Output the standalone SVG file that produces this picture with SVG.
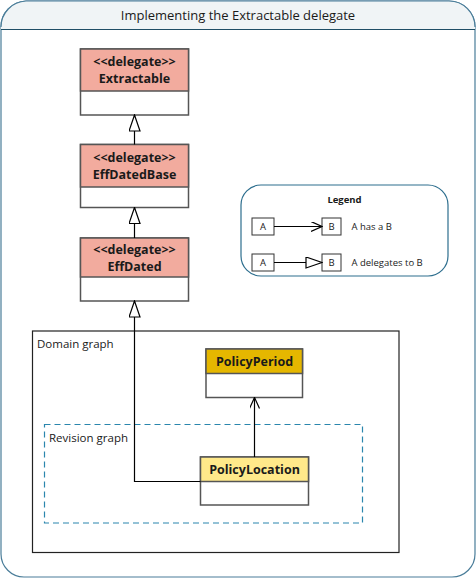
<svg xmlns="http://www.w3.org/2000/svg" width="476" height="578" viewBox="0 0 476 578">
<style>
.t{font-family:"Open Sans","Liberation Sans",sans-serif;fill:#1a1a1a}
.b{font-weight:bold;font-size:12.5px;text-anchor:middle}
.box{fill:#fff;stroke:#555;stroke-width:1.5}
.del{fill:#f2ab9e;stroke:#555;stroke-width:1.5}
.con{fill:none;stroke:#000;stroke-width:1.2}
.lg{font-size:9.5px}
</style>
<defs>
<marker id="open" markerWidth="12" markerHeight="12" refX="11" refY="5" orient="auto" markerUnits="userSpaceOnUse"><path d="M0,0 L11,5 L0,10" fill="none" stroke="#000" stroke-width="1.2"/></marker>
<marker id="hollow" markerWidth="18" markerHeight="14" refX="17" refY="6" orient="auto" markerUnits="userSpaceOnUse"><path d="M1,0.5 L17,6 L1,11.5 Z" fill="#fff" stroke="#000" stroke-width="1.2"/></marker>
</defs>
<g id="frame">
<path d="M26,1 H449 A26,26 0 0 1 475,27 V554 A23,23 0 0 1 452,577 H24 A23,23 0 0 1 1,554 V27 A26,26 0 0 1 26,1 Z" fill="#fff" stroke="#4a7d99" stroke-width="1.2"/>
<path d="M26,1 H449 A26,26 0 0 1 475,27 V29.5 H1 V27 A26,26 0 0 1 26,1 Z" fill="#f0f4f6" stroke="none"/>
<path d="M26,1 H449 A26,26 0 0 1 475,27" fill="none" stroke="#4a7d99" stroke-width="1.2"/>
<path d="M1,27 A26,26 0 0 1 26,1" fill="none" stroke="#4a7d99" stroke-width="1.2"/>
<line x1="1" y1="29.5" x2="475" y2="29.5" stroke="#1f4e66" stroke-width="1.2"/>
<text class="t" x="238" y="20" font-size="13" text-anchor="middle">Implementing the Extractable delegate</text>
</g>
<g id="domain">
<rect x="32.5" y="331" width="366.5" height="221.5" fill="none" stroke="#222" stroke-width="1.2"/>
<text class="t" x="37" y="348" font-size="11.5">Domain graph</text>
</g>
<g id="revision">
<rect x="44.5" y="424.5" width="318" height="98.5" fill="none" stroke="#2a86ad" stroke-width="1.2" stroke-dasharray="6,4"/>
<text class="t" x="49" y="442" font-size="11.5">Revision graph</text>
</g>
<g id="extractable">
<rect class="box" x="80.5" y="49" width="108" height="66"/>
<rect class="del" x="80.5" y="49" width="108" height="42"/>
<text class="t b" x="134.5" y="66">&lt;&lt;delegate&gt;&gt;</text>
<text class="t b" x="134.5" y="83">Extractable</text>
</g>
<g id="effdatedbase">
<rect class="box" x="80.5" y="144.5" width="108" height="63"/>
<rect class="del" x="80.5" y="144.5" width="108" height="42.5"/>
<text class="t b" x="134.5" y="162">&lt;&lt;delegate&gt;&gt;</text>
<text class="t b" x="134.5" y="179">EffDatedBase</text>
</g>
<g id="effdated">
<rect class="box" x="80.5" y="238" width="108" height="63"/>
<rect class="del" x="80.5" y="238" width="108" height="39"/>
<text class="t b" x="134.5" y="254">&lt;&lt;delegate&gt;&gt;</text>
<text class="t b" x="134.5" y="271">EffDated</text>
</g>
<g id="policyperiod">
<rect class="box" x="206" y="349" width="96.5" height="48.5"/>
<rect x="206" y="349" width="96.5" height="24.5" fill="#e5b700" stroke="#555" stroke-width="1.5"/>
<text class="t b" x="254.5" y="366">PolicyPeriod</text>
</g>
<g id="policylocation">
<rect class="box" x="200.5" y="457" width="108" height="48"/>
<rect x="200.5" y="457" width="108" height="24.5" fill="#ffe98a" stroke="#555" stroke-width="1.5"/>
<text class="t b" x="254.5" y="474">PolicyLocation</text>
</g>
<g id="legend">
<rect x="241" y="185" width="207" height="91" rx="20" ry="20" fill="#fff" stroke="#2d6e8e" stroke-width="1.2"/>
<text class="t" x="344.5" y="203" font-size="9.5" font-weight="bold" text-anchor="middle">Legend</text>
<rect x="252" y="218" width="22" height="17" fill="#fff" stroke="#333" stroke-width="1"/>
<text class="t lg" x="263" y="230" text-anchor="middle">A</text>
<rect x="322" y="218" width="19" height="17" fill="#fff" stroke="#333" stroke-width="1"/>
<text class="t lg" x="331.5" y="230" text-anchor="middle">B</text>
<text class="t lg" x="351.5" y="230">A has a B</text>
<rect x="252" y="254" width="22" height="17" fill="#fff" stroke="#333" stroke-width="1"/>
<text class="t lg" x="263" y="266" text-anchor="middle">A</text>
<rect x="322" y="254" width="19" height="17" fill="#fff" stroke="#333" stroke-width="1"/>
<text class="t lg" x="331.5" y="266" text-anchor="middle">B</text>
<text class="t lg" x="351.5" y="266">A delegates to B</text>
<line x1="274" y1="226.5" x2="322" y2="226.5" class="con" marker-end="url(#open)"/>
<line x1="274" y1="262.5" x2="322" y2="262.5" class="con" marker-end="url(#hollow)"/>
</g>
<g id="connectors">
<line class="con" x1="134.5" y1="144.5" x2="134.5" y2="115" marker-end="url(#hollow)"/>
<line class="con" x1="134.5" y1="238" x2="134.5" y2="207.5" marker-end="url(#hollow)"/>
<polyline class="con" points="200.5,481.5 134.5,481.5 134.5,301" marker-end="url(#hollow)"/>
<line class="con" x1="254.5" y1="457" x2="254.5" y2="397.5" marker-end="url(#open)"/>
</g>
</svg>
